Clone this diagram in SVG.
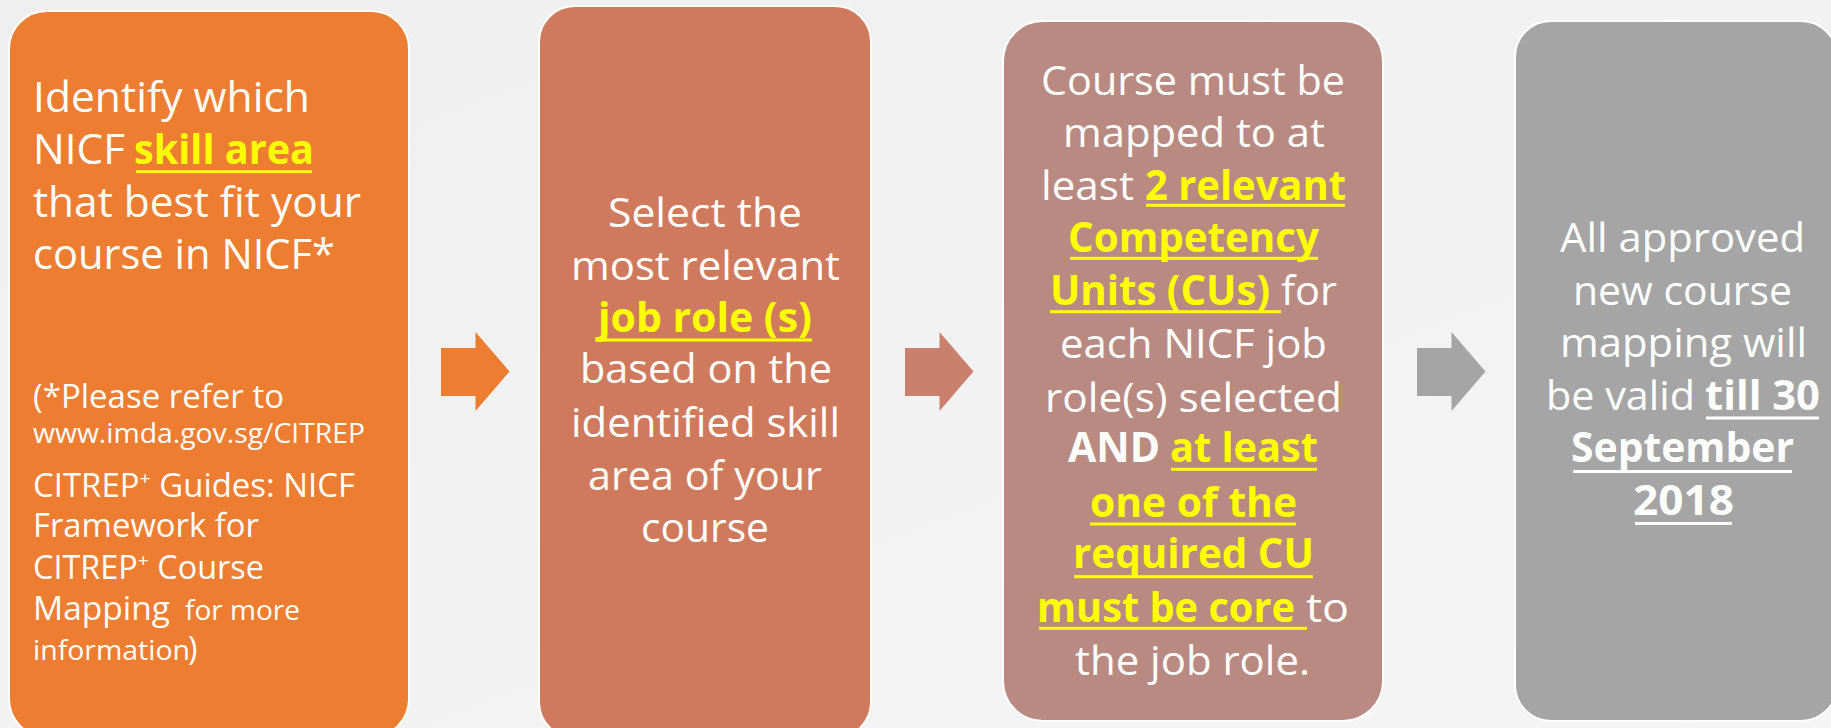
<svg xmlns="http://www.w3.org/2000/svg" width="1831" height="728" viewBox="0 0 1831 728">
<defs>
<linearGradient id="bg" x1="0" y1="0" x2="1" y2="1">
<stop offset="0" stop-color="#efefef"/>
<stop offset="1" stop-color="#f5f5f5"/>
</linearGradient>
</defs>
<style>
.box{stroke:#ffffff;stroke-width:2}
.t{font-family:"Open Sans","Noto Sans","Liberation Sans",sans-serif;fill:#ffffff}
.f42{font-size:42px}
.f41{font-size:41px}
.f32{font-size:32px}
.f27{font-size:27.5px}
.b{font-weight:700}
.y{fill:#ffff00}
.uy{fill:#ffff00}
.uw{fill:#ffffff}
</style>
<rect x="0" y="0" width="1831" height="728" fill="url(#bg)"/>

<g id="connectors">
<polygon points="441,348 475.5,348 475.5,332 509.5,371.5 475.5,411 475.5,396 441,396" fill="#ed7d31"/>
<polygon points="905,348 939.5,348 939.5,332 973.5,371.5 939.5,411 939.5,396 905,396" fill="#c9806d"/>
<polygon points="1417,348 1451.5,348 1451.5,332 1485.5,371.5 1451.5,411 1451.5,396 1417,396" fill="#a5a5a5"/>
</g>

<g id="node1">
<rect class="box" x="9" y="11" width="400" height="726" rx="38" fill="#ed7d31"/>
<text class="t f42" x="33" y="112" textLength="277" lengthAdjust="spacingAndGlyphs">Identify which</text>
<text class="t f42" x="33" y="164" textLength="92" lengthAdjust="spacingAndGlyphs">NICF</text>
<text class="t f42 b y" x="134" y="164" textLength="180" lengthAdjust="spacingAndGlyphs">skill area</text>
<rect class="uy" x="136" y="170.3" width="176" height="2.8"/>
<text class="t f42" x="33" y="217" textLength="328" lengthAdjust="spacingAndGlyphs">that best fit your</text>
<text class="t f42" x="33" y="269" textLength="302" lengthAdjust="spacingAndGlyphs">course in NICF*</text>
<text class="t f32" x="33" y="408" textLength="251" lengthAdjust="spacingAndGlyphs">(*Please refer to</text>
<text class="t f27" x="33" y="443" textLength="332" lengthAdjust="spacingAndGlyphs">www.imda.gov.sg/CITREP</text>
<text class="t f32" x="33" y="497" textLength="322" lengthAdjust="spacingAndGlyphs">CITREP<tspan font-size="19" dy="-12">+</tspan><tspan dy="12"> Guides: NICF</tspan></text>
<text class="t f32" x="33" y="537" textLength="226" lengthAdjust="spacingAndGlyphs">Framework for</text>
<text class="t f32" x="33" y="579" textLength="231" lengthAdjust="spacingAndGlyphs">CITREP<tspan font-size="19" dy="-12">+</tspan><tspan dy="12"> Course</tspan></text>
<text class="t f32" x="33" y="620" textLength="137" lengthAdjust="spacingAndGlyphs">Mapping</text>
<text class="t" x="185" y="620" font-size="27" textLength="115" lengthAdjust="spacingAndGlyphs">for more</text>
<text class="t f27" x="33" y="660" textLength="157" lengthAdjust="spacingAndGlyphs">information</text>
<text class="t f32" x="188" y="660">)</text>
</g>

<g id="node2">
<rect class="box" x="539" y="6" width="332" height="732" rx="36" fill="#d07a5d"/>
<text class="t f41" x="608" y="227" textLength="194" lengthAdjust="spacingAndGlyphs">Select the</text>
<text class="t f41" x="571" y="280" textLength="269" lengthAdjust="spacingAndGlyphs">most relevant</text>
<text class="t f41 b y" x="598" y="332" textLength="214" lengthAdjust="spacingAndGlyphs">job role (s)</text>
<rect class="uy" x="599" y="338.5" width="213" height="3"/>
<text class="t f41" x="580" y="383" textLength="252" lengthAdjust="spacingAndGlyphs">based on the</text>
<text class="t f41" x="571" y="437" textLength="269" lengthAdjust="spacingAndGlyphs">identified skill</text>
<text class="t f41" x="588" y="490" textLength="234" lengthAdjust="spacingAndGlyphs">area of your</text>
<text class="t f41" x="641" y="542" textLength="128" lengthAdjust="spacingAndGlyphs">course</text>
</g>

<g id="node3">
<rect class="box" x="1003" y="21" width="380" height="700" rx="40" fill="#b98a82"/>
<text class="t f41" x="1041" y="95" textLength="304" lengthAdjust="spacingAndGlyphs">Course must be</text>
<text class="t f41" x="1063" y="147" textLength="262" lengthAdjust="spacingAndGlyphs">mapped to at</text>
<text class="t f41" x="1041" y="200" textLength="93" lengthAdjust="spacingAndGlyphs">least</text>
<text class="t f41 b y" x="1145" y="200" textLength="201" lengthAdjust="spacingAndGlyphs">2 relevant</text>
<rect class="uy" x="1146" y="203.8" width="199" height="3"/>
<text class="t f41 b y" x="1068" y="252" textLength="251" lengthAdjust="spacingAndGlyphs">Competency</text>
<rect class="uy" x="1070" y="256.8" width="248" height="3"/>
<text class="t f41 b y" x="1050" y="305" textLength="220" lengthAdjust="spacingAndGlyphs">Units (CUs)</text>
<rect class="uy" x="1050" y="310.2" width="231" height="3"/>
<text class="t f41" x="1281" y="305" textLength="56" lengthAdjust="spacingAndGlyphs">for</text>
<text class="t f41" x="1060" y="358" textLength="267" lengthAdjust="spacingAndGlyphs">each NICF job</text>
<text class="t f41" x="1045" y="412" textLength="297" lengthAdjust="spacingAndGlyphs">role(s) selected</text>
<text class="t f41 b" x="1068" y="462" textLength="92" lengthAdjust="spacingAndGlyphs">AND</text>
<text class="t f41 b y" x="1170" y="462" textLength="148" lengthAdjust="spacingAndGlyphs">at least</text>
<rect class="uy" x="1171" y="467.8" width="146" height="3"/>
<text class="t f41 b y" x="1090" y="517" textLength="207" lengthAdjust="spacingAndGlyphs">one of the</text>
<rect class="uy" x="1090" y="522.5" width="206" height="3"/>
<text class="t f41 b y" x="1073" y="568" textLength="241" lengthAdjust="spacingAndGlyphs">required CU</text>
<rect class="uy" x="1074" y="575.2" width="239" height="3"/>
<text class="t f41 b y" x="1037" y="622" textLength="258" lengthAdjust="spacingAndGlyphs">must be core</text>
<rect class="uy" x="1039" y="626.8" width="268" height="3"/>
<text class="t f41" x="1306" y="622" textLength="43" lengthAdjust="spacingAndGlyphs">to</text>
<text class="t f41" x="1075" y="675" textLength="235" lengthAdjust="spacingAndGlyphs">the job role.</text>
</g>

<g id="node4">
<rect class="box" x="1515" y="21" width="322" height="700" rx="36" fill="#a5a5a5"/>
<text class="t f41" x="1560" y="252" textLength="245" lengthAdjust="spacingAndGlyphs">All approved</text>
<text class="t f41" x="1573" y="305" textLength="219" lengthAdjust="spacingAndGlyphs">new course</text>
<text class="t f41" x="1560" y="357" textLength="247" lengthAdjust="spacingAndGlyphs">mapping will</text>
<text class="t f41" x="1546" y="410" textLength="149" lengthAdjust="spacingAndGlyphs">be valid</text>
<text class="t f41 b" x="1705" y="410" textLength="115" lengthAdjust="spacingAndGlyphs">till 30</text>
<rect class="uw" x="1706" y="416.5" width="113" height="3"/>
<text class="t f41 b" x="1571" y="462" textLength="223" lengthAdjust="spacingAndGlyphs">September</text>
<rect class="uw" x="1573" y="470" width="219" height="3"/>
<text class="t f41 b" x="1633" y="515" textLength="101" lengthAdjust="spacingAndGlyphs">2018</text>
<rect class="uw" x="1635" y="522" width="97" height="3"/>
</g>
</svg>
